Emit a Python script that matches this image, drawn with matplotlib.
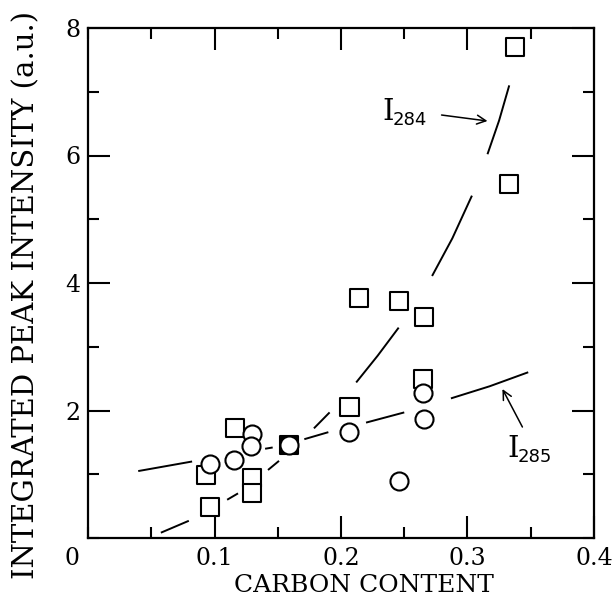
import numpy as np
import matplotlib
matplotlib.use("Agg")
import matplotlib.pyplot as plt
from matplotlib.ticker import MultipleLocator, FixedLocator, FixedFormatter

# Measured intensities of the 284 eV peak (squares)
i284_carbon = [0.0936, 0.0968, 0.116, 0.1293, 0.130, 0.1588, 0.2067,
               0.2146, 0.2462, 0.2653, 0.2646, 0.3329, 0.3377]
i284_value = [0.99, 0.48, 1.72, 0.94, 0.70, 1.46, 2.05,
              3.76, 3.72, 3.46, 2.50, 5.56, 7.70]

# Measured intensities of the 285 eV peak (circles)
i285_carbon = [0.0963, 0.1154, 0.1300, 0.1286, 0.1588, 0.2062,
               0.2462, 0.2646, 0.2653]
i285_value = [1.156, 1.22, 1.63, 1.44, 1.46, 1.66, 0.894, 2.28, 1.87]

# Hand-drawn trend lines, broken where they pass the symbols
i284_trend = [
    [(0.0576, 0.083), (0.0797, 0.27)],
    [(0.110, 0.60), (0.1186, 0.70)],
    [(0.1423, 1.067), (0.151, 1.21)],
    [(0.1786, 1.72), (0.191, 1.97)],
    [(0.212, 2.44), (0.229, 2.86), (0.2456, 3.30)],
    [(0.272, 4.11), (0.288, 4.70), (0.3035, 5.37)],
    [(0.3158, 6.02), (0.325, 6.55), (0.333, 7.10)],
]
i285_trend = [
    [(0.0397, 1.05), (0.0823, 1.20)],
    [(0.140, 1.40), (0.146, 1.42)],
    [(0.171, 1.55), (0.190, 1.66)],
    [(0.2198, 1.81), (0.250, 1.97)],
    [(0.2869, 2.19), (0.3175, 2.38), (0.348, 2.60)],
]

x_ticks = [0.1, 0.2, 0.3, 0.4]
x_ticklabels = ["0.1", "0.2", "0.3", "0.4"]
y_ticks = [2, 4, 6, 8]
y_ticklabels = ["2", "4", "6", "8"]

serif = "DejaVu Serif"
sans = "DejaVu Sans"

fig = plt.figure(figsize=(6.16, 6.04), dpi=100)
ax = fig.add_axes([88 / 616, 66 / 604, 506 / 616, 510 / 604])
ax.set_xlim(0, 0.4)
ax.set_ylim(0, 8)

for seg in i284_trend + i285_trend:
    xs, ys = zip(*seg)
    ax.plot(xs, ys, color="black", lw=1.4, solid_capstyle="butt", zorder=2)

# squares: a square sharing its spot with a circle is drawn filled
coincide = [any(np.isclose(cx, x) and np.isclose(cy, y)
                for x, y in zip(i285_carbon, i285_value))
            for cx, cy in zip(i284_carbon, i284_value)]
sq_face = ["black" if c else "white" for c in coincide]
ms = 13
ax.scatter(i284_carbon, i284_value, s=ms ** 2, marker="s",
           facecolors=sq_face, edgecolors="black", linewidths=1.5, zorder=3)
ax.scatter(i285_carbon, i285_value, s=ms ** 2, marker="o",
           facecolors="white", edgecolors="black", linewidths=1.5, zorder=4)

# axes frame and ticks
for sp in ax.spines.values():
    sp.set_linewidth(1.6)
ax.xaxis.set_major_locator(FixedLocator(x_ticks))
ax.xaxis.set_major_formatter(FixedFormatter(x_ticklabels))
ax.xaxis.set_minor_locator(MultipleLocator(0.05))
ax.yaxis.set_major_locator(FixedLocator(y_ticks))
ax.yaxis.set_major_formatter(FixedFormatter(y_ticklabels))
ax.yaxis.set_minor_locator(MultipleLocator(1))
ax.tick_params(which="both", direction="in", top=True, right=True, width=1.5)
ax.tick_params(which="major", length=15.8)
ax.tick_params(which="minor", length=7.9)
ax.tick_params(axis="x", which="major", pad=6.5)
ax.tick_params(axis="y", which="major", pad=5.5)
for lab in ax.get_xticklabels() + ax.get_yticklabels():
    lab.set_fontfamily(serif)
    lab.set_fontsize(17)

# shared origin label
ax.annotate("0", xy=(0, 0), xycoords="data", xytext=(-6, -6.5),
            textcoords="offset points", ha="right", va="top",
            fontfamily=serif, fontsize=17)

ax.set_xlabel("CARBON CONTENT", fontfamily=serif, fontsize=18)
ax.xaxis.set_label_coords(0.545, -0.07)
ax.set_ylabel("INTEGRATED PEAK INTENSITY (a.u.)", fontfamily=serif, fontsize=21)
ax.yaxis.set_label_coords(-0.095, 0.4755)

# peak labels with subscripts
def peak_label(x, y, sub, dx_sub):
    ax.text(x, y, "I", fontfamily=serif, fontsize=21, ha="left",
            va="baseline", zorder=5)
    ax.annotate(sub, xy=(x, y), xycoords="data", xytext=(dx_sub, -3.6),
                textcoords="offset points", fontfamily=sans, fontsize=13,
                ha="left", va="baseline", zorder=5)

peak_label(0.2329, 6.557, "284", 7.5)
peak_label(0.3316, 1.27, "285", 7.5)

arrow = dict(arrowstyle="->", color="black", lw=1.1,
             shrinkA=0, shrinkB=0, mutation_scale=16)
ax.annotate("", xy=(0.3158, 6.541), xytext=(0.2795, 6.635), arrowprops=arrow)
ax.annotate("", xy=(0.3276, 2.337), xytext=(0.3434, 1.741), arrowprops=arrow)

fig.savefig("out.png", dpi=100)
